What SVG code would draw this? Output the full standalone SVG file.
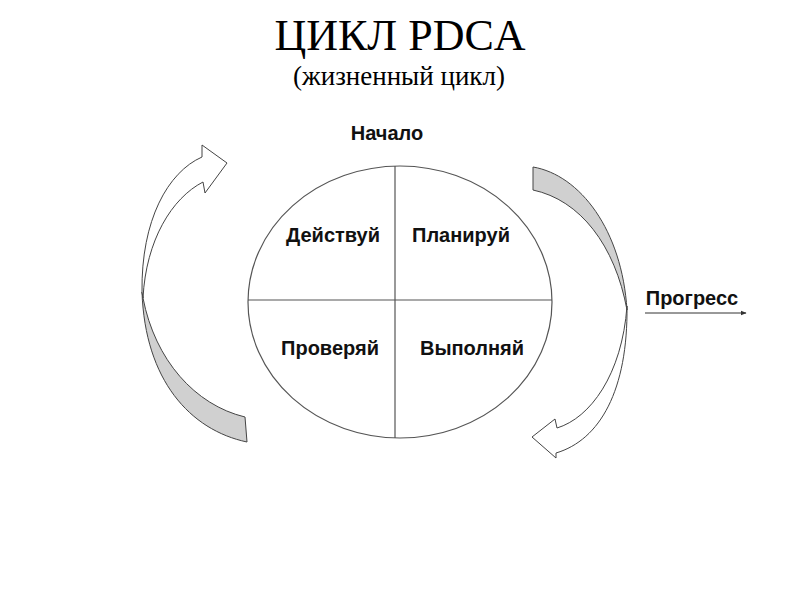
<svg xmlns="http://www.w3.org/2000/svg" width="800" height="600" viewBox="0 0 800 600">
<defs>
<style>
.title{font-family:"Liberation Serif","Times New Roman",serif;fill:#000;text-anchor:middle}
.lbl{font-family:"Liberation Sans",Arial,sans-serif;font-weight:bold;font-size:20px;fill:#111;text-anchor:middle}
.ln{stroke:#555;stroke-width:1.2;fill:none}
.white{fill:#fff;stroke:#444;stroke-width:1}
.gray{fill:#d0d0d0;stroke:#444;stroke-width:1}
</style>
<marker id="ah" viewBox="0 0 10 10" refX="9" refY="5" markerWidth="6" markerHeight="6" orient="auto"><path d="M0,1 L10,5 L0,9 Z" fill="#333"/></marker>
</defs>
<rect width="800" height="600" fill="#fff"/>
<text class="title" x="400" y="50" font-size="44">ЦИКЛ PDCA</text>
<text class="title" x="399" y="85" font-size="27">(жизненный цикл)</text>
<g id="start"><text class="lbl" x="387" y="140">Начало</text></g>
<g id="cycle">
<ellipse cx="400" cy="302" rx="152" ry="136" fill="#fff" stroke="#555" stroke-width="1.2"/>
<line class="ln" x1="395" y1="166" x2="395" y2="438"/>
<line class="ln" x1="248" y1="300" x2="552" y2="300"/>
</g>
<g id="act"><text class="lbl" x="333" y="242">Действуй</text></g>
<g id="plan"><text class="lbl" x="461" y="242">Планируй</text></g>
<g id="check"><text class="lbl" x="330" y="355">Проверяй</text></g>
<g id="do"><text class="lbl" x="472" y="355">Выполняй</text></g>
<g id="left-arrow">
<path class="gray" d="M142,292 C145,380 190,430 247,442 L245,417 C195,405 155,360 143,298 Z"/>
<path class="white" d="M142,292 C141,220 168,172 202,157 L202,145 L227,163 L205,193 L203,182 C172,198 146,240 143,298 Z"/>
</g>
<g id="right-arrow">
<path class="gray" d="M533,167 C580,175 622,230 627,310 C615,245 580,200 533,190 Z"/>
<path class="white" d="M627,306 C628,390 600,440 556,453 L556,458 L532,437 L555,419 L557,428 C590,418 622,375 627,306 Z"/>
</g>
<g id="progress">
<text class="lbl" x="692" y="305">Прогресс</text>
</g>
<g id="connectors">
<line x1="645" y1="313" x2="746" y2="313" stroke="#333" stroke-width="1" marker-end="url(#ah)"/>
</g>
</svg>
